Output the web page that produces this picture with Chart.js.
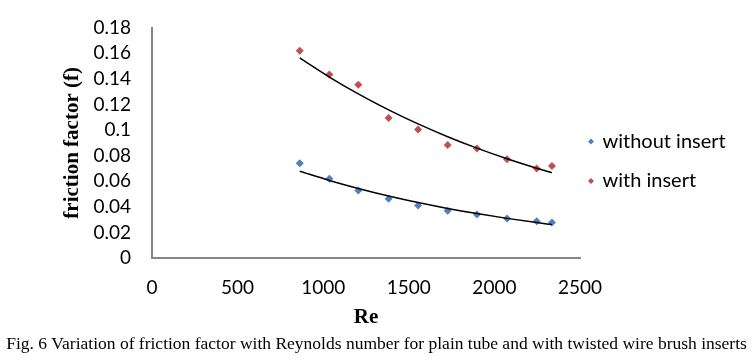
<!DOCTYPE html>
<html>
<head>
<meta charset="utf-8">
<script src="https://cdn.jsdelivr.net/npm/chart.js@4/dist/chart.umd.min.js"></script>
<style>
  html, body { margin: 0; padding: 0; background: #ffffff; }
  #wrap { width: 753px; height: 362px; position: relative; }
</style>
</head>
<body>
<div id="wrap"><canvas id="c" width="753" height="362"></canvas></div>
<script>
// ---- data ----
const reynolds = [863, 1036, 1205, 1382, 1554, 1727, 1898, 2074, 2247, 2336];
const withoutInsert = [0.074, 0.062, 0.0528, 0.0463, 0.041, 0.0369, 0.034, 0.0308, 0.0288, 0.0277];
const withInsert = [0.162, 0.1435, 0.1354, 0.1095, 0.1004, 0.0884, 0.0855, 0.0771, 0.070, 0.0719];
const seriesNames = ['without insert', 'with insert'];
const xTickValues = [0, 500, 1000, 1500, 2000, 2500];
const yTickValues = [0, 0.02, 0.04, 0.06, 0.08, 0.1, 0.12, 0.14, 0.16, 0.18];
const xTitle = 'Re';
const yTitle = 'friction factor (f)';
const caption = 'Fig. 6 Variation of friction factor with Reynolds number for plain tube and with twisted wire brush inserts';

const BLUE = '#4F81BD';
const RED = '#C0504D';

// Exponential least-squares trendline (as in the spreadsheet), evaluated at the data x values
function expTrend(xs, ys) {
  const n = xs.length;
  let sx = 0, sy = 0, sxx = 0, sxy = 0;
  for (let i = 0; i < n; i++) {
    const ly = Math.log(ys[i]);
    sx += xs[i]; sy += ly; sxx += xs[i] * xs[i]; sxy += xs[i] * ly;
  }
  const b = (n * sxy - sx * sy) / (n * sxx - sx * sx);
  const a = Math.exp((sy - b * sx) / n);
  return xs.map(x => ({ x: x, y: a * Math.exp(b * x) }));
}
const pts = (xs, ys) => xs.map((x, i) => ({ x: x, y: ys[i] }));

const legendPlugin = {
  id: 'sideLegend',
  afterDraw(chart) {
    const ctx = chart.ctx;
    const items = chart.data.datasets.filter(d => d.inLegend);
    const x0 = chart.chartArea.right + 11;
    const yStart = 141.5, gap = 39.5;
    ctx.save();
    items.forEach((d, i) => {
      const y = yStart + i * gap;
      ctx.fillStyle = d.backgroundColor;
      ctx.strokeStyle = d.borderColor;
      Chart.helpers.drawPoint(ctx, { pointStyle: 'rectRot', radius: 3, borderWidth: 0 }, x0, y);
      ctx.fillStyle = '#000';
      ctx.font = '20px Lato';
      ctx.textBaseline = 'middle';
      ctx.textAlign = 'left';
      ctx.fillText(d.label, x0 + 11.5, y);
    });
    ctx.restore();
  }
};

new Chart(document.getElementById('c'), {
  type: 'scatter',
  data: {
    datasets: [
      {
        label: seriesNames[0], inLegend: true,
        data: pts(reynolds, withoutInsert),
        backgroundColor: BLUE, borderColor: BLUE,
        pointStyle: 'rectRot', pointRadius: 4, pointBorderWidth: 0, showLine: false, order: 2
      },
      {
        label: seriesNames[1], inLegend: true,
        data: pts(reynolds, withInsert),
        backgroundColor: RED, borderColor: RED,
        pointStyle: 'rectRot', pointRadius: 4, pointBorderWidth: 0, showLine: false, order: 2
      },
      {
        label: 'trend ' + seriesNames[0],
        data: expTrend(reynolds, withoutInsert),
        showLine: true, borderColor: '#000', borderWidth: 1.5, pointRadius: 0,
        tension: 0.4, cubicInterpolationMode: 'monotone', fill: false, order: 1
      },
      {
        label: 'trend ' + seriesNames[1],
        data: expTrend(reynolds, withInsert),
        showLine: true, borderColor: '#000', borderWidth: 1.5, pointRadius: 0,
        tension: 0.4, cubicInterpolationMode: 'monotone', fill: false, order: 1
      }
    ]
  },
  options: {
    responsive: false,
    animation: false,
    layout: { padding: { left: 0, right: 0, top: 27.7, bottom: 0 } },
    plugins: {
      legend: { display: false },
      tooltip: { enabled: false },
      title: {
        display: true,
        position: 'bottom',
        text: caption,
        color: '#000',
        font: { family: 'Liberation Serif', size: 17.5, weight: 'normal', lineHeight: 1.2 },
        padding: { top: 0, bottom: 7 }
      }
    },
    scales: {
      x: {
        type: 'linear', min: 0, max: 2500,
        afterBuildTicks: s => { s.ticks = xTickValues.map(v => ({ value: v })); },
        afterFit: s => { s.height = 76; },
        grid: { display: false, drawTicks: false },
        border: { display: true, color: '#868686', width: 2 },
        ticks: { color: '#000', font: { family: 'Lato', size: 19 }, padding: 18, maxRotation: 0,
                 autoSkip: false, callback: v => String(v) },
        title: { display: true, text: xTitle, color: '#000',
                 font: { family: 'Liberation Serif', size: 21, weight: 'bold', lineHeight: 1.2 },
                 padding: { top: 0, bottom: 3.4 } }
      },
      y: {
        type: 'linear', min: 0, max: 0.18,
        afterBuildTicks: s => { s.ticks = yTickValues.map(v => ({ value: v })); },
        afterFit: s => { s.width = 152; },
        grid: { display: false, drawTicks: true, tickLength: 21 },
        border: { display: true, color: '#868686', width: 2 },
        ticks: { color: '#000', font: { family: 'Lato', size: 19 }, padding: 0,
                 autoSkip: false, callback: v => String(Number(v.toFixed(2))) },
        title: { display: true, text: yTitle, color: '#000',
                 font: { family: 'Liberation Serif', size: 21, weight: 'bold', lineHeight: 1.2 },
                 padding: { top: 60, bottom: 0 } }
      },
      legendSpace: {
        type: 'linear', position: 'right', display: true, min: 0, max: 1,
        afterFit: s => { s.width = 173; },
        grid: { display: false, drawTicks: false },
        border: { display: false },
        ticks: { display: false }
      }
    }
  },
  plugins: [legendPlugin]
});
</script>
</body>
</html>
